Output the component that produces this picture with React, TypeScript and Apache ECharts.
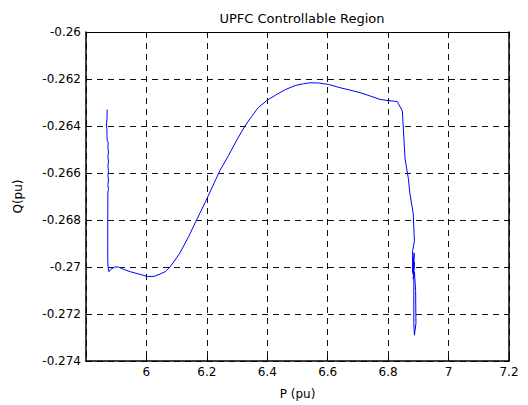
import React, { useEffect, useRef } from "react";
import * as echarts from "echarts";

const titleText = "UPFC Controllable Region";
const xName = "P (pu)";
const yName = "Q(pu)";

const pValues: number[] = [
  5.870, 5.8695, 5.8675, 5.869, 5.8695, 5.870, 5.8735, 5.8725, 5.8745, 5.8725,
  5.8745, 5.8725, 5.8745, 5.8725, 5.8745, 5.8725, 5.8745, 5.8725, 5.872, 5.872,
  5.872, 5.873, 5.876, 5.882, 5.895, 5.907, 5.925, 5.946, 5.975, 6.003,
  6.025, 6.045, 6.062, 6.078, 6.095, 6.111, 6.140, 6.166, 6.200, 6.243,
  6.272, 6.301, 6.326, 6.348, 6.370, 6.400, 6.431, 6.460, 6.492, 6.520,
  6.541, 6.570, 6.602, 6.641, 6.670, 6.707, 6.740, 6.773, 6.800, 6.817,
  6.830, 6.847, 6.856, 6.867, 6.872, 6.883, 6.887, 6.881, 6.881, 6.883,
  6.884, 6.886, 6.882, 6.887, 6.883, 6.887, 6.891, 6.892, 6.887, 6.885,
  6.885, 6.885,
];

const qValues: number[] = [
  -0.2633, -0.2637, -0.2640, -0.2641, -0.2644, -0.2646, -0.2647, -0.2649, -0.2651, -0.2653,
  -0.2655, -0.2657, -0.2659, -0.2661, -0.2663, -0.2665, -0.2667, -0.2668, -0.2680, -0.2690,
  -0.2697, -0.2700, -0.2702, -0.2701, -0.2700, -0.2700, -0.2701, -0.2702, -0.2703, -0.2704,
  -0.2704, -0.2703, -0.2702, -0.2700, -0.2697, -0.2694, -0.2687, -0.2680, -0.2671, -0.2659,
  -0.26525, -0.26455, -0.2640, -0.2636, -0.26322, -0.2629, -0.26266, -0.26245, -0.26228, -0.2622,
  -0.26216, -0.26217, -0.26223, -0.26237, -0.26246, -0.26258, -0.26272, -0.26287, -0.26292, -0.26294,
  -0.26296, -0.26336, -0.2654, -0.26624, -0.26687, -0.26772, -0.26891, -0.2693, -0.2702, -0.2696,
  -0.2705, -0.2694, -0.2703, -0.2698, -0.2705, -0.2702, -0.2710, -0.2724, -0.2729, -0.2724,
  -0.2712, -0.2705,
];

const xMin = 5.8;
const xMax = 7.2;
const xStep = 0.2;
const yMin = -0.274;
const yMax = -0.26;
const yStep = 0.002;

const font = "'DejaVu Sans', Arial, sans-serif";

export default function App() {
  const ref = useRef<HTMLDivElement>(null);
  useEffect(() => {
    if (!ref.current) return;
    const chart = echarts.init(ref.current, undefined, { renderer: "svg" });
    const data = pValues.map((p, i) => [p, qValues[i]]);
    const axisLine = { show: true, lineStyle: { color: "#000", width: 1.5 } };
    const tick = { show: true, inside: true, length: 4, lineStyle: { color: "#000", width: 1 } };
    const split = { show: true, lineStyle: { color: "#111", width: 1, type: [6, 5] as any } };
    chart.setOption({
      animation: false,
      backgroundColor: "#fff",
      title: {
        text: titleText,
        left: 297,
        top: 7,
        textAlign: "center",
        textStyle: { fontFamily: font, fontSize: 13, fontWeight: "normal", color: "#000" },
      },
      grid: { left: 86, right: 19, top: 32, bottom: 41, containLabel: false },
      xAxis: [
        {
          type: "value",
          min: xMin,
          max: xMax,
          interval: xStep,
          position: "bottom",
          name: xName,
          nameLocation: "middle",
          nameGap: 27,
          nameTextStyle: { fontFamily: font, fontSize: 12, color: "#000" },
          axisLine,
          axisTick: tick,
          splitLine: split,
          axisLabel: {
            showMinLabel: false,
            margin: 5,
            fontFamily: font,
            fontSize: 12,
            color: "#000",
            formatter: (v: number) => String(Number(v.toFixed(1))),
          },
        },
        {
          type: "value",
          min: xMin,
          max: xMax,
          interval: xStep,
          position: "top",
          axisLine: { show: true, lineStyle: { color: "#000", width: 1 } },
          axisTick: tick,
          splitLine: { show: false },
          axisLabel: { show: false },
        },
      ],
      yAxis: [
        {
          type: "value",
          min: yMin,
          max: yMax,
          interval: yStep,
          position: "left",
          name: yName,
          nameLocation: "middle",
          nameGap: 62,
          nameRotate: 90,
          nameTextStyle: { fontFamily: font, fontSize: 12, color: "#000" },
          axisLine,
          axisTick: tick,
          splitLine: split,
          axisLabel: {
            margin: 5,
            fontFamily: font,
            fontSize: 12,
            color: "#000",
            formatter: (v: number) => String(Number(v.toFixed(3))),
          },
        },
        {
          type: "value",
          min: yMin,
          max: yMax,
          interval: yStep,
          position: "right",
          axisLine,
          axisTick: tick,
          splitLine: { show: false },
          axisLabel: { show: false },
        },
      ],
      series: [
        {
          type: "line",
          data,
          showSymbol: false,
          symbol: "none",
          lineStyle: { color: "#0000ff", width: 1 },
          xAxisIndex: 0,
          yAxisIndex: 0,
        },
      ],
    });
    return () => chart.dispose();
  }, []);
  return (
    <div
      ref={ref}
      style={{ position: "fixed", left: 0, top: 0, width: 528, height: 405, background: "#fff" }}
    />
  );
}
